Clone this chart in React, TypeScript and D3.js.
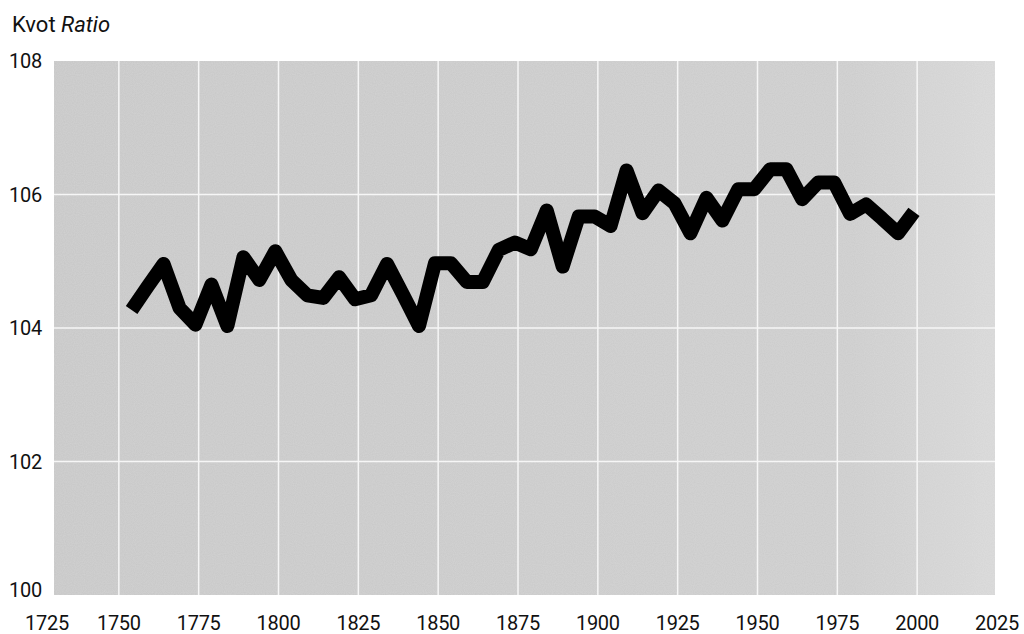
import React, { useRef, useEffect } from 'react';
import * as d3 from 'd3';

// ratio, five-year steps
const years = [
  1754, 1759, 1764, 1769, 1774, 1779, 1784, 1789, 1794, 1799,
  1804, 1809, 1814, 1819, 1824, 1829, 1834, 1839, 1844, 1849,
  1854, 1859, 1864, 1869, 1874, 1879, 1884, 1889, 1894, 1899,
  1904, 1909, 1914, 1919, 1924, 1929, 1934, 1939, 1944, 1949,
  1954, 1959, 1964, 1969, 1974, 1979, 1984, 1989, 1994, 1999
];
const ratio = [
  104.27, 104.62, 104.96, 104.30, 104.05, 104.65, 104.03, 105.06, 104.72, 105.15,
  104.72, 104.49, 104.45, 104.76, 104.43, 104.49, 104.96, 104.50, 104.03, 104.97,
  104.97, 104.69, 104.69, 105.17, 105.28, 105.18, 105.76, 104.92, 105.67, 105.67,
  105.53, 106.36, 105.72, 106.06, 105.87, 105.42, 105.95, 105.61, 106.08, 106.08,
  106.38, 106.38, 105.93, 106.18, 106.18, 105.71, 105.85, 105.64, 105.42, 105.74
];
const xTicks = [1725, 1750, 1775, 1800, 1825, 1850, 1875, 1900, 1925, 1950, 1975, 2000, 2025];
const yTicks = [100, 102, 104, 106, 108];

const Chart = () => {
  const ref = useRef<SVGSVGElement>(null);

  useEffect(() => {
    const width = 1024;
    const height = 634;
    const plotLeft = 54;
    const plotRight = 995;
    const plotTop = 61;
    const plotBottom = 595;
    const font = "Roboto, 'Liberation Sans', sans-serif";

    const x = d3.scaleLinear().domain([1725, 2025]).range([39, 997]);
    const y = d3.scaleLinear().domain([100, 108]).range([plotBottom, plotTop]);

    const svg = d3.select(ref.current)
      .attr("width", width)
      .attr("height", height)
      .attr("viewBox", [0, 0, width, height].join(" "));
    svg.selectAll("*").remove();

    svg.append("rect")
      .attr("width", width).attr("height", height).attr("fill", "#fff");

    // slight grain like the printed original
    const defs = svg.append("defs");
    const filter = defs.append("filter").attr("id", "grain")
      .attr("x", 0).attr("y", 0).attr("width", 1).attr("height", 1);
    filter.append("feTurbulence")
      .attr("type", "fractalNoise").attr("baseFrequency", 0.9)
      .attr("numOctaves", 1).attr("seed", 3).attr("result", "noise");
    filter.append("feColorMatrix")
      .attr("in", "noise").attr("type", "matrix")
      .attr("values", "0 0 0 0 1  0 0 0 0 1  0 0 0 0 1  0 0 0 0.18 0")
      .attr("result", "speck");
    filter.append("feComposite")
      .attr("in", "speck").attr("in2", "SourceGraphic").attr("operator", "in")
      .attr("result", "specks");
    filter.append("feMerge").call(m => {
      m.append("feMergeNode").attr("in", "SourceGraphic");
      m.append("feMergeNode").attr("in", "specks");
    });

    const grad = defs.append("linearGradient").attr("id", "fade")
      .attr("x1", 0).attr("x2", 1).attr("y1", 0).attr("y2", 0);
    grad.append("stop").attr("offset", "0%").attr("stop-color", "#c6c6c6");
    grad.append("stop").attr("offset", "85%").attr("stop-color", "#cbcbcb");
    grad.append("stop").attr("offset", "100%").attr("stop-color", "#d6d6d6");

    svg.append("rect")
      .attr("x", plotLeft).attr("y", plotTop)
      .attr("width", plotRight - plotLeft).attr("height", plotBottom - plotTop)
      .attr("fill", "url(#fade)")
      .attr("filter", "url(#grain)");

    // grid
    svg.append("g")
      .selectAll("line")
      .data(xTicks.filter(d => x(d) > plotLeft && x(d) < plotRight))
      .join("line")
      .attr("x1", d => x(d)).attr("x2", d => x(d))
      .attr("y1", plotTop).attr("y2", plotBottom)
      .attr("stroke", "#f6f6f6").attr("stroke-width", 1.5);

    svg.append("g")
      .selectAll("line")
      .data(yTicks.filter(d => d > 100 && d < 108))
      .join("line")
      .attr("x1", plotLeft).attr("x2", plotRight)
      .attr("y1", d => y(d)).attr("y2", d => y(d))
      .attr("stroke", "#f6f6f6").attr("stroke-width", 1.5);

    // line
    const data = years.map((yr, i) => ({ year: yr, value: ratio[i] }));
    const line = d3.line<{ year: number; value: number }>()
      .x(d => x(d.year))
      .y(d => y(d.value));

    svg.append("path")
      .datum(data)
      .attr("fill", "none")
      .attr("stroke", "#000")
      .attr("stroke-width", 14)
      .attr("stroke-linejoin", "round")
      .attr("stroke-linecap", "butt")
      .attr("d", line);

    // y labels
    svg.append("g")
      .selectAll("text")
      .data(yTicks)
      .join("text")
      .attr("x", 9)
      .attr("y", d => Math.min(y(d) + 7, plotBottom + 2))
      .attr("font-family", font)
      .attr("font-size", 20)
      .attr("letter-spacing", -0.3)
      .attr("fill", "#111")
      .text(d => d);

    // x labels
    svg.append("g")
      .selectAll("text")
      .data(xTicks)
      .join("text")
      .attr("x", d => Math.max(x(d), 47))
      .attr("y", 630)
      .attr("text-anchor", "middle")
      .attr("font-family", font)
      .attr("font-size", 20)
      .attr("letter-spacing", -0.3)
      .attr("fill", "#111")
      .text(d => d);

    // title
    const title = svg.append("text")
      .attr("x", 12).attr("y", 32)
      .attr("font-family", font)
      .attr("font-size", 22)
      .attr("fill", "#111");
    title.append("tspan").text("Kvot ");
    title.append("tspan").attr("font-style", "italic").text("Ratio");
  }, []);

  return <svg ref={ref} style={{ position: 'absolute', left: 0, top: 0, display: 'block' }}></svg>;
};

export default function App() {
  return <Chart />;
}
